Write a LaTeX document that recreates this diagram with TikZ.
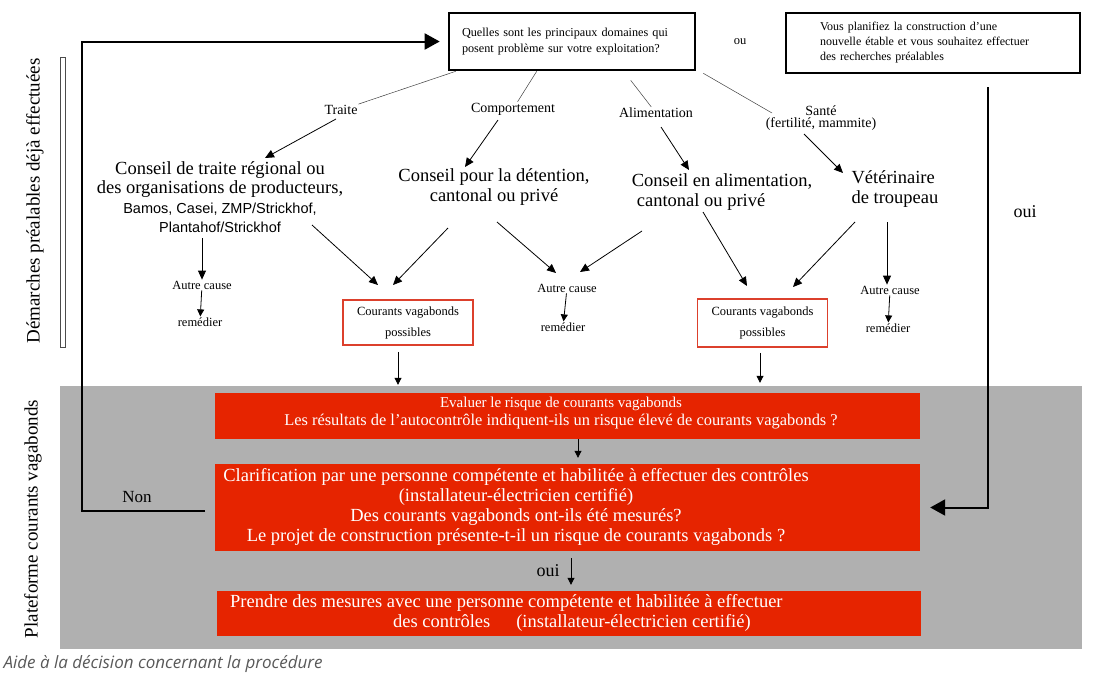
\documentclass[tikz,border=0pt]{standalone}
\usepackage{fontspec}
\setmainfont{Liberation Serif}
\setsansfont{Liberation Sans}
\newfontfamily\legende{Open Sans}
\usetikzlibrary{calc, arrows.meta}

\definecolor{rougeCV}{RGB}{230,36,0}
\definecolor{grisCV}{RGB}{176,176,176}
\definecolor{cadreCV}{RGB}{220,64,44}
\newcommand{\taille}[2]{\fontsize{#1}{#2}\selectfont}

\tikzset{
	question/.style={draw, line width=2.6pt, align=left, inner sep=0pt},
	trait/.style={draw=black!75, line width=0.5pt},
	fleche/.style={-{Triangle[length=9pt,width=8pt]}, line width=0.8pt},
	petitefleche/.style={-{Triangle[length=7pt,width=7pt]}, line width=0.8pt},
	boucle/.style={-{Triangle[length=15pt,width=16pt]}, line width=2pt},
	etiquette/.style={font=\taille{14}{14}, inner sep=1pt},
	conseil/.style={font=\taille{18.5}{19.5}, inner sep=1pt},
	petit/.style={font=\taille{12.5}{14}, inner sep=1pt},
	possibles/.style={draw=cadreCV, line width=1.6pt, minimum width=130pt, minimum height=45pt, align=center, font=\taille{12.5}{21}, inner sep=0pt},
	rouge/.style={fill=rougeCV, minimum width=705pt, inner sep=0pt},
	texterouge/.style={text=white, align=center, font=\taille{18.5}{19.7}, inner sep=0pt}
}

\begin{document}
\begin{tikzpicture}[x=1pt, y=-1pt]
		\useasboundingbox (0,0) rectangle (1108,681);
		
		\fill[grisCV] (60,386) rectangle (1082,649);
		\draw[black!70, line width=0.8pt] (60.5,57) rectangle (65.5,347);
		
		\node[rotate=90, font=\taille{19}{19}] (demarches) at (35,201) {Démarches préalables déjà effectuées};
		\node[rotate=90, font=\taille{19}{19}] (plateforme) at (33,519) {Plateforme courants vagabonds};
		
		\node[question, minimum width=246pt, minimum height=57pt, text width=220pt, font=\taille{12.2}{16}] (quest) at (572,41.5) {Quelles sont les principaux domaines qui\\posent problème sur votre exploitation?};
		\node[question, minimum width=294pt, minimum height=60pt, text width=226pt, font=\taille{12}{15}] (projet) at (933,43) {Vous planifiez la construction d’une\\nouvelle étable et vous souhaitez effectuer\\des recherches préalables};
		\node[font=\taille{12.5}{14}] (ou) at (740,42) {ou};
		
		\node[etiquette] (traite) at (341,110) {Traite};
		\node[etiquette] (compo) at (513,109) {Comportement};
		\node[etiquette] (alim) at (656,113) {Alimentation};
		\node[etiquette, align=center, font={\taille{14}{12}\lineskiplimit=-20pt}] (sante) at (821,118) {Santé\\(fertilité, mammite)};
		
		\node[conseil, align=center] (traiteC) at (220,197) {Conseil de traite régional ou\\des organisations de producteurs,\\{\sffamily\taille{14.5}{19}Bamos, Casei, ZMP/Strickhof,}\\{\sffamily\taille{14.5}{19}Plantahof/Strickhof}};
		\node[conseil, align=center] (detC) at (494,187) {Conseil pour la détention,\\cantonal ou privé};
		\node[conseil, align=left] (alimC) at (722,192) {Conseil en alimentation,\\\hspace*{5pt}cantonal ou privé};
		\node[conseil, align=left] (vetC) at (895,189) {Vétérinaire\\de troupeau};
		
		\node[petit] (ac1) at (202,285) {Autre cause};
		\node[petit] (rem1) at (200,322) {remédier};
		\node[possibles] (cv1) at (408,322.5) {Courants vagabonds\\possibles};
		\node[petit] (ac2) at (567,288) {Autre cause};
		\node[petit] (rem2) at (563,327) {remédier};
		\node[possibles, minimum height=48pt] (cv2) at (762.5,323) {Courants vagabonds\\possibles};
		\node[petit] (ac3) at (890,290) {Autre cause};
		\node[petit] (rem3) at (888,328) {remédier};
		
		\node[rouge, minimum height=46pt] (eval) at (567.5,416) {};
		\node[texterouge, font=\taille{16.4}{18}] (evalT) at (561,413) {{\taille{15}{18}Evaluer le risque de courants vagabonds}\\Les résultats de l’autocontrôle indiquent-ils un risque élevé de courants vagabonds ?};
		\node[rouge, minimum height=87pt] (clar) at (567.5,507.5) {};
		\node[texterouge] (clarT) at (516,507) {Clarification par une personne compétente et habilitée à effectuer des contrôles\\(installateur-électricien certifié)\\Des courants vagabonds ont-ils été mesurés?\\Le projet de construction présente-t-il un risque de courants vagabonds ?};
		\node[rouge, minimum width=704pt, minimum height=45pt] (mesures) at (569,613.5) {};
		\node[texterouge, align=left, anchor=west] (mesuresT) at (230,613) {Prendre des mesures avec une personne compétente et habilitée à effectuer\\\hspace*{163pt}des contrôles\hspace*{26pt}(installateur-électricien certifié)};
		
		\node[font=\taille{17}{17}] (non) at (137,497) {Non};
		\node[font=\taille{18}{18}] (ouiD) at (1025,212) {oui};
		\node[font=\taille{18}{18}] (ouiB) at (548,571) {oui};
		
		\node[anchor=west, font=\legende\itshape\taille{17}{17}, text=black!65] (legende) at (0,664) {Aide à la décision concernant la procédure};
		
		\coordinate (nonD) at (205,511);
		\coordinate (ouiH) at (988,87);
		\draw[boucle, shorten >=8pt] (nonD) -- (82,511) |- (quest.west);
		\draw[boucle, shorten >=10pt] (ouiH) |- (clar.east);
		
		\draw[trait] ([xshift=8pt]quest.south west) -- (traite)
		([xshift=89pt]quest.south west) -- (compo)
		([xshift=183pt,yshift=-9pt]quest.south west) -- (alim)
		([xshift=7pt,yshift=-2pt]quest.south east) -- ($(sante)+(-49,-5)$);
		
		\path[every edge/.style={draw, fleche}] ($(traite)+(-5,9)$) edge ($(traiteC)+(45,-39)$)
		($(compo)+(-15,11)$) edge ($(detC)+(-29,-20)$)
		($(alim)+(5,14)$) edge ($(alimC)+(-33,-22)$)
		($(sante)+(-17,16)$) edge ($(vetC)+(-52,-16)$)
		($(traiteC)+(-18,41)$) edge (ac1.north)
		($(traiteC)+(92,28)$) edge ($(cv1)+(-30,-37.5)$)
		($(detC)+(-46,41)$) edge ($(cv1)+(-15,-37.5)$)
		($(detC)+(3,35)$) edge ($(ac2)+(-11,-15)$)
		($(alimC)+(-80,39)$) edge ($(ac2)+(13,-16)$)
		($(alimC)+(-19,20)$) edge ($(cv2)+(-15.5,-37)$)
		($(vetC)+(-40,33)$) edge ($(cv2)+(30.5,-36)$)
		($(vetC)+(-8,33)$) edge (ac3.north -| 887,0);
		
		\path[every edge/.style={draw, petitefleche}] (ac1) edge (rem1)
		(ac2) edge (rem2)
		(ac3) edge (rem3)
		($(cv1.south)+(-10,6)$) edge ($(eval.north -| cv1.south)+(-10,-8)$)
		($(cv2.south)+(-2.5,5)$) edge ($(eval.north -| cv2.south)+(-2.5,-10)$)
		($(eval.south)+(10.5,0)$) edge ($(clar.north)+(10.5,-6)$)
		($(clar.south)+(3.5,7)$) edge ($(mesures.north)+(2,-6)$);
\end{tikzpicture}
\end{document}
